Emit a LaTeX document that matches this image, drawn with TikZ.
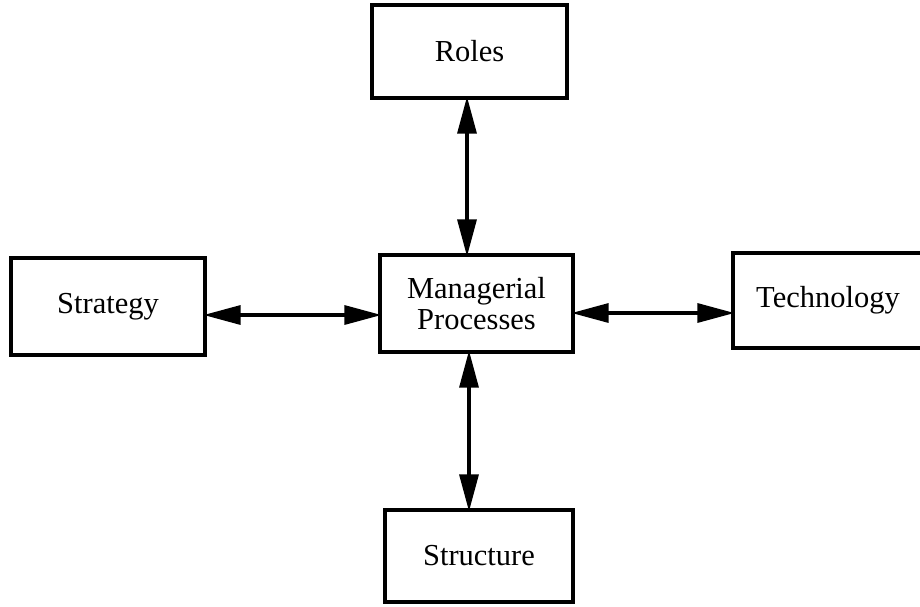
\documentclass[tikz,border=0pt]{standalone}
\usepackage{fontspec}
\setmainfont{Liberation Serif}
\usetikzlibrary{arrows.meta}
\begin{document}
\begin{tikzpicture}[x=1pt,y=-1pt,
  box/.style={draw,line width=3.2pt,rectangle,inner sep=0pt,align=center,
    font=\fontsize{30.5}{31}\selectfont},
  link/.style={line width=3.2pt,shorten <=-3pt,shorten >=-3pt,
    {Triangle[length=37pt,width=19pt]}-{Triangle[length=37pt,width=19pt]}}]
  \useasboundingbox (0,0) rectangle (920,606);
  \clip (0,0) rectangle (920,606);
  % outer boxes around the central process box
  \node[box,minimum width=195pt,minimum height=93pt] (roles) at (469.5,51.5) {Roles};
  \node[box,minimum width=194pt,minimum height=97pt] (strat) at (108,306.5) {Strategy};
  \node[box,minimum width=193pt,minimum height=97pt] (mp) at (476.5,303.5) {Managerial\\Processes};
  \node[box,minimum width=190pt,minimum height=95pt] (tech) at (828,300.5) {Technology};
  \node[box,minimum width=188pt,minimum height=92pt] (struc) at (479,556) {Structure};
  % lines along which the connectors run
  \coordinate (upx) at (467,0);
  \coordinate (dnx) at (469,0);
  \coordinate (lty) at (0,315);
  \coordinate (rty) at (0,313);
  % two-headed connectors
  \draw[link] (roles.south -| upx) -- (mp.north -| upx);
  \draw[link] (mp.south -| dnx) -- (struc.north -| dnx);
  \draw[link] (strat.east |- lty) -- (mp.west |- lty);
  \draw[link] (mp.east |- rty) -- (tech.west |- rty);
\end{tikzpicture}
\end{document}
